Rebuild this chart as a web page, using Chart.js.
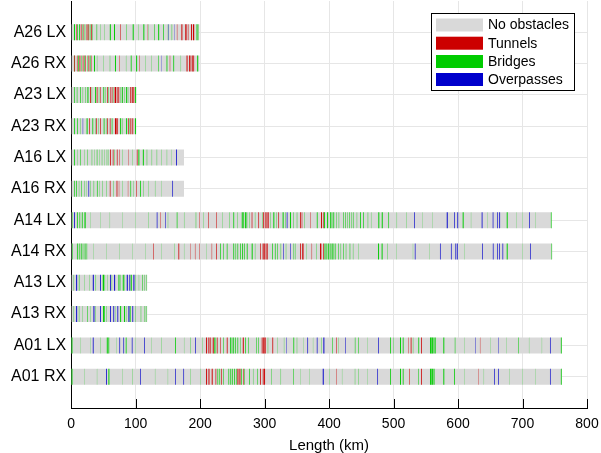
<!DOCTYPE html>
<html>
<head>
<meta charset="utf-8">
<script src="https://cdn.jsdelivr.net/npm/chart.js@4.4.1/dist/chart.umd.min.js"></script>
<style>
  html, body { margin: 0; padding: 0; background: #fff; }
  canvas { display: block; }
</style>
</head>
<body>
<canvas id="c" width="601" height="453"></canvas>
<script>
// ---------- DATA ----------
const categories = ['A26 LX','A26 RX','A23 LX','A23 RX','A16 LX','A16 RX','A14 LX','A14 RX','A13 LX','A13 RX','A01 LX','A01 RX'];
const lengths = [199, 199, 101, 101, 175, 175, 745, 746, 118, 118, 761, 761];
const xMin = 0, xMax = 800, xStep = 100;
const seriesNames = ['No obstacles', 'Tunnels', 'Bridges', 'Overpasses'];

// stripes as [start km, extent km], one list per category (same order as categories)
const tunnels = [
  [[8,0.8],[15,1],[19,0.6],[24,1.2],[27,0.8],[31,1],[76,0.8],[118,0.4],[164,0.6],[171,1.5],[177,2],[181,0.8],[186,1.5],[189,1.8]],
  [[5,1],[9,0.8],[13,1.2],[18,1],[22,0.8],[27,1],[31,0.6],[75,0.6],[106,0.6],[153,0.6],[179,1.5],[183,2],[187,1.5],[189.5,1.2]],
  [[29.5,1.2],[39.8,1],[45,0.8],[56,1],[60.5,0.8],[63,1],[67.5,2.2],[70.9,1],[73.3,1.2],[91.5,1],[94,1.5],[96.6,1.2]],
  [[28,1],[39,1],[45,1],[56,1],[60,1],[68,2.5],[71.5,1],[88.5,1],[92,1.2],[95,1.2]],
  [[60.5,1.2],[64.6,1],[70.9,1],[74.9,0.6],[88.8,0.5],[101.9,1]],
  [[60,1],[70.5,1.2],[74,0.5],[88,0.5],[101,0.8]],
  [[138,0.6],[199,0.6],[212.9,0.8],[224.8,0.8],[280,1],[290.4,1],[298,1.2],[300.5,1],[303,1.5],[305.5,1],[321.4,1],[355,1.2],[357.6,0.8],[370.5,0.6],[387.6,1.5],[391,0.8]],
  [[127.6,0.8],[166.4,1.2],[184.5,0.5],[192,0.6],[199,0.6],[218,0.6],[224.8,1],[293,1],[297,1.5],[299.5,1.5],[302,1],[304.3,1],[355,1.2],[358,1.2],[360,0.8],[373,0.6],[386,2],[391,1]],
  [],
  [],
  [[209.3,1.5],[212.9,1.5],[216,1],[219.6,1.5],[226,1],[231,0.8],[241.4,1.2],[266.2,1.5],[295.6,1.2],[297.5,1.2],[299.5,1],[300.8,1],[312.1,1.2],[410.9,0.8],[523,0.6],[526.6,1.2],[542.6,1.2],[634,0.5]],
  [[209.3,1.5],[213,1.5],[218,1.5],[224,1],[233,1],[257.9,1.5],[261,1.5],[267,0.8],[293,1.2],[297.2,1.2],[299.2,1.5],[410.9,0.6],[524.5,0.8],[542.6,1.2],[631.5,0.5]]
];
const bridges = [
  [[4.5,1.5],[9.5,1],[12.5,1.2],[17,0.6],[21,0.8],[26,0.6],[29,0.8],[33,0.6],[39.5,0.8],[45,0.4],[52,0.4],[60,1.5],[66.5,1.5],[86,0.6],[95.5,1.5],[104,0.4],[112,1.5],[120,0.4],[128.5,0.8],[135,1.5],[143,1],[150,0.4],[156,0.6],[194.5,1.5],[197,0.5]],
  [[4.5,0.8],[11,1],[15.5,0.6],[20,0.8],[25,0.6],[29,1],[35.5,1.5],[40,0.4],[50,0.4],[60,0.5],[68,1.5],[85,0.4],[92.5,1.2],[100.8,1.5],[115,0.4],[125,0.4],[135,0.8],[148,1.2],[158.5,1.2],[170,0.4],[195.5,1.5]],
  [[4.7,1],[8.8,0.8],[14,1],[18,0.5],[21.7,0.6],[25.3,1.5],[32,0.5],[37.2,1.5],[43,0.5],[50,1.2],[53,0.5],[58,0.6],[66,0.5],[76,0.5],[78.6,1.5],[82,0.5],[85.3,1.5],[88,0.5],[99.2,1.5]],
  [[4.7,1.2],[9.5,1],[14,0.5],[24,1.5],[33,1.2],[37,0.5],[42,0.5],[50.5,1.2],[54,0.5],[63,1],[76,1.5],[79,0.5],[85.3,1.5],[90,0.5],[99,1.5]],
  [[4.7,1.2],[10,0.4],[14,0.8],[20,0.4],[25.3,0.6],[32,0.6],[36,0.4],[39.8,0.8],[44,0.4],[47.6,0.6],[52,0.4],[55.3,0.6],[58,0.4],[67,0.5],[80,0.4],[95,0.4],[104.3,1.5],[111.2,1.5],[117.3,0.6],[125,0.5],[132.8,0.5],[140,0.4],[148.4,0.4],[155,0.3]],
  [[4.7,1],[8,1],[12,0.5],[16,0.8],[20,0.5],[23,0.4],[30,0.5],[35,0.6],[40,1],[44,0.4],[48,0.5],[55,0.5],[65,0.5],[80,0.4],[92,1],[97,0.4],[107,1.2],[112,0.5],[120,0.4],[130,0.4],[140,0.3]],
  [[2,0.6],[9,1.2],[13,1],[16.6,1.2],[20,0.8],[22,1],[30,0.3],[45,0.3],[60,0.3],[80,0.3],[100,0.3],[120,0.4],[150,0.4],[163.8,1],[175,0.4],[193.3,0.6],[205,0.4],[235,0.4],[245,0.5],[251.6,1.2],[258,0.5],[264.6,1.5],[267,1],[269.5,1.5],[272,1],[276,0.5],[285,0.5],[296,0.5],[309,0.5],[313.6,1.5],[318,0.5],[328,1.5],[332,0.6],[339.5,1.5],[345,0.6],[350,0.6],[362,0.5],[381,1.2],[392,1.5],[397,1.5],[401.6,1.2],[404,1],[406.7,1.2],[411,0.6],[415,0.6],[421.7,0.8],[425,0.8],[428,0.6],[431,0.8],[434,0.6],[437,0.8],[443,0.5],[448,1.2],[453,1],[460,0.6],[465,0.4],[476.4,1.5],[481.7,1.5],[492,1],[505,0.4],[520,0.4],[545,0.3],[560,0.3],[607.2,1.5],[620,0.3],[645,0.3],[675.5,1.5],[690,0.3],[700,0.3],[720,0.3],[744,1]],
  [[2,0.8],[9,1.2],[12,1],[15,1.2],[18,0.8],[21,1.2],[24,0.8],[35,0.3],[55,0.3],[75,0.3],[95,0.3],[115,0.3],[140,0.3],[160,0.4],[175,0.3],[210,0.3],[231,1],[236,0.8],[241.4,1],[251.6,1.2],[255,0.8],[258,1],[262,1],[265,1.2],[268,1],[272.4,1.2],[280,1.5],[285,0.5],[312,1],[316,1],[320,0.8],[325,0.6],[333,0.5],[345,0.8],[348,0.5],[365,0.4],[380,0.5],[393,1.2],[395,1],[398,1.5],[401,1.2],[404,1.5],[407,1],[410,0.8],[414,0.8],[418,0.6],[422,0.8],[426,0.6],[432,0.8],[437,0.5],[445,0.4],[476,1.5],[481.5,1.5],[490,0.5],[505,0.3],[530,0.3],[555,0.3],[610,0.3],[675.5,1.5],[700,0.3],[745,0.8]],
  [[4,0.5],[12,0.8],[20,0.4],[28,0.4],[38,0.6],[49,2],[52,0.6],[56,0.4],[63,0.5],[73.4,1.5],[76,0.5],[80.1,1.5],[83,0.5],[92.5,1.5],[100,0.5],[105,0.4],[110,0.8],[114,0.6],[117,0.6]],
  [[4,0.5],[12,0.6],[18,0.4],[25,0.8],[30,0.4],[38,0.5],[49.5,2.5],[55,0.5],[68,0.4],[76,1.5],[82,1.5],[85,0.5],[91,1.2],[100,0.5],[108,0.6],[114,0.8],[117,0.6]],
  [[0.5,1.5],[15,0.3],[30,0.3],[45,0.4],[55.3,1.5],[57.8,1.2],[70,0.3],[84.7,1.2],[100,0.3],[125,0.3],[140,0.4],[161.2,1.2],[175,0.3],[185,0.5],[204,0.4],[222,1],[224,0.8],[236,0.8],[246.5,1.2],[249,1],[251.5,1.2],[254.3,1],[258,1],[262,0.6],[270,1],[275,0.8],[287,0.8],[290,0.8],[305,0.5],[320,0.4],[330,0.4],[344.7,1.2],[350,0.5],[360,0.3],[375,0.3],[388,0.5],[405,0.8],[415,0.4],[440,0.8],[445,0.8],[460,0.3],[494.6,1.2],[500,0.5],[510,1.5],[514.3,1.2],[530,0.5],[538.5,1.2],[556.6,2],[559,2],[562,1.5],[564.3,1],[577.2,1.5],[595,0.8],[610,0.3],[650,0.3],[675,0.3],[693.5,0.8],[710,0.3],[730,0.3],[759.5,1.2]],
  [[0.5,1.5],[20,0.3],[40,0.3],[57.8,1.5],[80,0.3],[95,0.4],[130,0.3],[150,0.3],[185,0.4],[200,0.4],[227,1],[230,1],[236,0.8],[244,1],[247,1.2],[250,1],[253,1.2],[256,0.8],[264,1],[268,0.8],[276,1],[282,0.5],[289,0.8],[310,0.6],[325,0.5],[344.7,0.8],[355,0.3],[370,0.3],[400,0.4],[420,0.3],[440,0.5],[445,0.5],[460,0.3],[494.6,1.2],[510,1.5],[514.3,1.2],[538.5,0.8],[556.6,2],[559,2],[562,1.5],[577.2,1.5],[593.8,1.2],[610,0.3],[640,0.3],[680,0.3],[700,0.3],[720,0.3],[759.5,1.2]]
];
const overpasses = [
  [[150.5,0.6],[160,0.4]],
  [[140,0.4]],
  [],
  [[18,0.6]],
  [[162.8,1.2]],
  [[26.9,1],[157,1]],
  [[4.7,1.2],[132.8,1],[145.7,0.8],[334.4,1],[532,1],[582.5,1.5],[594.3,1],[599,1.2],[636.7,1.2],[653.8,1],[661,1],[664,1.2],[710.6,1]],
  [[329,0.8],[339.5,0.8],[533,1],[572,1],[589,1],[596,1.2],[598.5,1],[637.7,1],[654,1],[661,1],[664,1],[669,1],[711.6,1]],
  [[7.8,1.5],[33.6,1.5],[45,1.2],[60.5,1.2],[66.7,1.5],[86.3,1.5],[90.4,1.2],[96.6,1.5]],
  [[7.8,1.5],[34.6,1.5],[45,1.2],[60.5,1.2],[65.5,1.2],[71.8,1.2],[88.9,1.5],[95,1.2]],
  [[33.6,1.2],[74.9,1],[81.1,1],[94.1,1],[113.2,1],[192.2,1],[334,0.6],[366.4,1],[381,1],[391.2,1.5],[424.8,0.8],[476.4,1],[626.4,0.6],[662.5,0.6],[742.6,1]],
  [[54.3,1.2],[107,1],[161.2,1],[174.1,1],[390.2,1.5],[474.9,1],[655.8,1],[662.5,1],[742.6,1]]
];

// ---------- STYLE ----------
const colors = ['#d9d9d9', '#cc0000', '#00cc00', '#0000cc'];
const FONT = "'Liberation Sans', Arial, Helvetica, sans-serif";

function stripesToPoints(list) {
  const pts = [];
  list.forEach((stripes, i) => {
    stripes.forEach(([s, w]) => pts.push({ x: [s, s + w], y: i + 1 }));
  });
  return pts;
}
const basePoints = lengths.map((len, i) => ({ x: [0, len], y: i + 1 }));

const common = { borderWidth: 0, borderSkipped: false, inflateAmount: 0, barThickness: 16, grouped: false };
const datasets = [
  Object.assign({ label: seriesNames[0], data: basePoints, backgroundColor: colors[0], order: 10 }, common),
  Object.assign({ label: seriesNames[1], data: stripesToPoints(tunnels), backgroundColor: colors[1], order: 1 }, common),
  Object.assign({ label: seriesNames[2], data: stripesToPoints(bridges), backgroundColor: colors[2], order: 1 }, common),
  Object.assign({ label: seriesNames[3], data: stripesToPoints(overpasses), backgroundColor: colors[3], order: 1 }, common)
];

// inward tick marks on the x axis
const innerTicks = {
  id: 'innerTicks',
  afterDraw(chart) {
    const xs = chart.scales.x;
    const ctx = chart.ctx;
    const yb = chart.chartArea.bottom;
    ctx.save();
    ctx.strokeStyle = '#000';
    ctx.lineWidth = 1;
    ctx.beginPath();
    xs.ticks.forEach(t => {
      const px = Math.round(xs.getPixelForValue(t.value)) + 0.5;
      ctx.moveTo(px, yb);
      ctx.lineTo(px, yb - 9);
    });
    ctx.stroke();
    ctx.restore();
  }
};

const boxLegend = {
  id: 'boxLegend',
  afterDraw(chart) {
    const ctx = chart.ctx;
    ctx.save();
    const x0 = 431.5, y0 = 13.5, w = 143, h = 77;
    ctx.fillStyle = '#fff';
    ctx.fillRect(x0, y0, w, h);
    ctx.strokeStyle = '#000';
    ctx.lineWidth = 1;
    ctx.strokeRect(x0, y0, w, h);
    ctx.font = '14px ' + FONT;
    ctx.textBaseline = 'middle';
    ctx.textAlign = 'left';
    const rowY = [25, 43.2, 61.5, 79.5];
    seriesNames.forEach((name, i) => {
      ctx.fillStyle = colors[i];
      ctx.fillRect(436, rowY[i] - 6.5, 47, 13);
      ctx.fillStyle = '#000';
      ctx.fillText(name, 488, rowY[i] + 0.5);
    });
    ctx.restore();
  }
};

new Chart(document.getElementById('c'), {
  type: 'bar',
  data: { datasets },
  options: {
    indexAxis: 'y',
    responsive: false,
    animation: false,
    devicePixelRatio: 1,
    events: [],
    layout: { padding: { left: 6, right: 14, top: 1, bottom: 0 } },
    plugins: { legend: { display: false }, tooltip: { enabled: false } },
    scales: {
      x: {
        type: 'linear',
        min: xMin, max: xMax,
        ticks: { stepSize: xStep, color: '#000', font: { family: FONT, size: 14 }, padding: 2 },
        grid: { color: '#e6e6e6', tickColor: 'rgba(0,0,0,0)', tickLength: 6, lineWidth: 1 },
        border: { color: '#000', width: 1 },
        title: { display: true, text: 'Length (km)', color: '#000', font: { family: FONT, size: 15 }, padding: { top: 2.2, bottom: -2 } }
      },
      y: {
        type: 'linear',
        offset: false,
        min: 0, max: categories.length + 1,
        reverse: true,
        afterBuildTicks(scale) {
          const t = [];
          for (let v = 0; v <= categories.length + 1; v++) t.push({ value: v });
          scale.ticks = t;
        },
        afterFit(scale) {
          scale.paddingTop = 0;
          scale.paddingBottom = 0;
        },
        ticks: {
          autoSkip: false,
          color: '#000',
          font: { family: FONT, size: 16 },
          padding: 5,
          callback: (v) => (v >= 1 && v <= categories.length) ? categories[v - 1] : null
        },
        grid: { color: '#e6e6e6', drawTicks: false, offset: false },
        border: { color: '#000', width: 1 }
      }
    }
  },
  plugins: [innerTicks, boxLegend]
});
</script>
</body>
</html>
